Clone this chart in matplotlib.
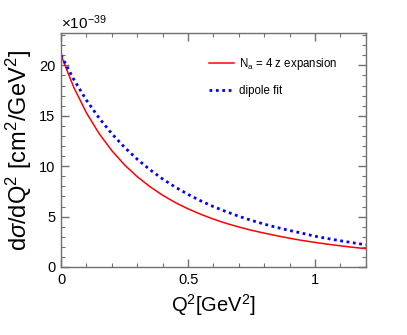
import matplotlib
matplotlib.use("Agg")
import matplotlib.pyplot as plt
from matplotlib.ticker import MultipleLocator

plt.rcParams['font.family'] = ['Liberation Sans', 'DejaVu Sans']
plt.rcParams['mathtext.fontset'] = 'custom'
plt.rcParams['mathtext.rm'] = 'Liberation Sans'
plt.rcParams['mathtext.it'] = 'Liberation Sans:italic'

# Q^2 in GeV^2, cross section in units of 1e-39 cm^2/GeV^2
q2 = [0.0, 0.05, 0.1, 0.15, 0.2, 0.25, 0.3, 0.35, 0.4, 0.45, 0.5, 0.55, 0.6,
      0.65, 0.7, 0.75, 0.8, 0.85, 0.9, 0.95, 1.0, 1.05, 1.1, 1.15, 1.2]
zexp = [21.0, 17.83, 15.29, 13.23, 11.54, 10.13, 8.96, 7.97, 7.12, 6.39, 5.77,
        5.23, 4.75, 4.33, 3.97, 3.64, 3.36, 3.10, 2.85, 2.63, 2.44, 2.26, 2.10,
        1.95, 1.82]
dipole = [21.0, 18.61, 16.55, 14.77, 13.22, 11.87, 10.69, 9.65, 8.73, 7.92, 7.20,
          6.56, 5.99, 5.49, 5.03, 4.62, 4.25, 3.92, 3.62, 3.35, 3.05, 2.82, 2.60,
          2.40, 2.20]

fig = plt.figure(figsize=(4.07, 3.35), dpi=100)
ax = fig.add_axes([0.150, 0.203, 0.749, 0.698])

ax.plot(q2, zexp, color='#ff0000', lw=1.1, label=r'N$_{\mathrm{a}}$ = 4 z expansion')
ax.plot(q2, dipole, color='#0000ff', lw=2.0, ls=(0, (1, 1.3)), label='dipole fit')

ax.set_xlim(0, 1.2)
ax.set_ylim(0, 23.2)
ax.xaxis.set_major_locator(MultipleLocator(0.5))
ax.xaxis.set_minor_locator(MultipleLocator(0.1))
ax.yaxis.set_major_locator(MultipleLocator(5))
ax.yaxis.set_minor_locator(MultipleLocator(1))
ax.set_xticks([0, 0.5, 1])
ax.set_xticklabels(['0', '0.5', '1'])

axcol = '#707070'
for s in ax.spines.values():
    s.set_color(axcol)
    s.set_linewidth(1.0)
ax.tick_params(which='both', direction='in', top=True, right=True, color=axcol,
               labelsize=10.5, labelcolor='black')
ax.tick_params(which='major', length=6, width=1.0, pad=4)
ax.tick_params(which='minor', length=3, width=0.8)

ax.set_xlabel(r'Q$^2$[GeV$^2$]', fontsize=14.5, labelpad=4)
ax.set_ylabel(r'd$\sigma$/dQ$^2$ [cm$^2$/GeV$^2$]', fontsize=17, labelpad=4)

fig.text(0.150, 0.912, r'$\times$10$^{-39}$', fontsize=11, ha='left', va='baseline')

leg = ax.legend(loc='upper left', bbox_to_anchor=(0.451, 0.945), frameon=False,
                fontsize=8.3, handlelength=2.2, labelspacing=1.1, handletextpad=0.45)

fig.savefig('out.png', dpi=100)
